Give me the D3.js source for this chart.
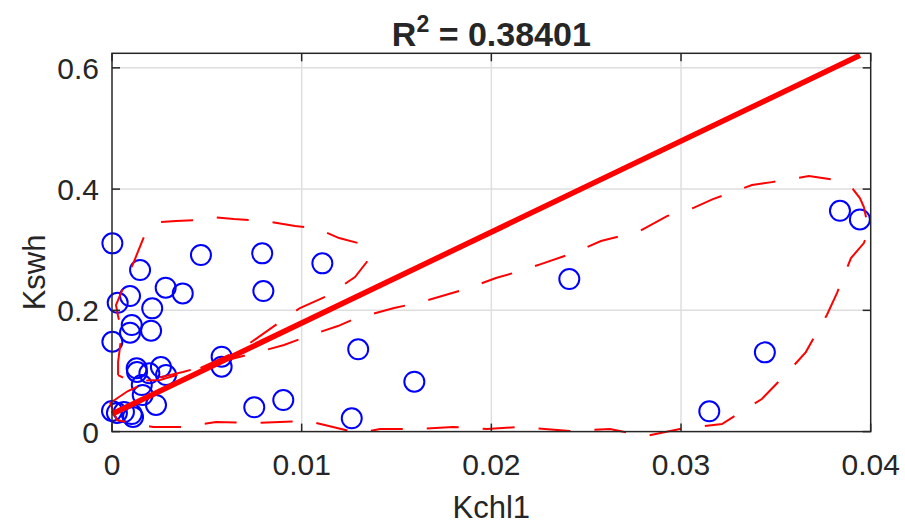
<!DOCTYPE html>
<html><head><meta charset="utf-8">
<script src="https://cdn.jsdelivr.net/npm/d3@7"></script>
<style>
body{margin:0;background:#fff}
svg{display:block}
text{font-family:"Liberation Sans",Arial,Helvetica,sans-serif;fill:#262626}
</style>
</head><body><svg id="c" width="905" height="527"></svg>
<script>
// ---- data ----
const xTicks = [0, 0.01, 0.02, 0.03, 0.04];
const xTickLabels = ["0", "0.01", "0.02", "0.03", "0.04"];
const yTicks = [0, 0.2, 0.4, 0.6];
const yTickLabels = ["0", "0.2", "0.4", "0.6"];
const xLabel = "Kchl1";
const yLabel = "Kswh";
const r2Text = "0.38401";

const kchl1 = [0.00002,0.00469,0.00792,0.01109,0.00148,0.00095,0.0003,0.00283,0.00373,0.00798,
  0.00212,0.00104,0.00095,0.00206,0.00002,0.00578,0.00578,0.01298,0.0013,0.00132,
  0.00197,0.00258,0.00285,0.00157,0.00162,0.00232,0.0000,0.00026,0.00063,0.00104,
  0.00111,0.0075,0.00903,0.01264,0.01594,0.02411,0.03149,0.03442,0.03838,0.03943];
const kswh = [0.3105,0.2912,0.294,0.2775,0.2664,0.2236,0.2125,0.2373,0.228,0.2318,
  0.2033,0.1758,0.1631,0.1664,0.1482,0.1235,0.107,0.1357,0.1044,0.0983,
  0.0961,0.1065,0.0933,0.0768,0.0603,0.0439,0.034,0.0307,0.0323,0.029,
  0.0241,0.0401,0.0521,0.0219,0.0823,0.2516,0.0335,0.1307,0.3642,0.35];

// linear fit: intercept, slope
const fitCoef = [0.029, 15.01];

// dashed boundary curves (data units)
const boundAx = [0.00032,0.00032,0.00047,0.00053,0.00032,0.00021,0.00121,0.00179,0.00258,0.00337,0.00432,0.00527,0.00643,0.00807,0.00965,0.01075,0.01197,0.01318,0.01355,0.01281,0.01133,0.00991,0.0087,0.00675,0.00464,0.00253,0.00095,0.00032];
const boundAy = [0.0933,0.1148,0.151,0.1642,0.1906,0.2087,0.2846,0.3291,0.3456,0.3472,0.3489,0.3538,0.3505,0.3472,0.339,0.3357,0.3192,0.3093,0.2846,0.2549,0.2236,0.2038,0.1774,0.1345,0.1049,0.0851,0.0834,0.0933];
const boundBx = [-0.0001,0.00084,0.00237,0.00374,0.00569,0.0077,0.00907,0.01033,0.01191,0.01276,0.01487,0.01629,0.01866,0.02024,0.02151,0.02261,0.0243,0.02578,0.02783,0.02926,0.03063,0.03168,0.03374,0.03479,0.03674,0.03817,0.03906,0.03943,0.03964,0.0399,0.03964,0.03896,0.03822,0.03769,0.03711,0.03658,0.03564,0.03426,0.03216,0.02994,0.02815,0.02625,0.02414,0.0214,0.01977,0.01798,0.01613,0.01413,0.01297,0.01165,0.01033,0.00764,0.00548,0.00369,0.00216,0.00026,-0.0001];
const boundBy = [0.0472,0.0669,0.0884,0.0983,0.1148,0.1312,0.1428,0.1576,0.1741,0.1857,0.2038,0.2137,0.2351,0.2533,0.2648,0.2763,0.2945,0.3143,0.3308,0.3555,0.3687,0.3835,0.4066,0.4115,0.4214,0.4148,0.4,0.3852,0.3703,0.3324,0.311,0.2862,0.2285,0.1923,0.1609,0.1312,0.0983,0.0538,0.0125,0.0043,-0.0073,0.0043,0.001,0.0076,0.0043,0.0076,0.0043,0.0043,-0.0023,0.0076,0.0175,0.0142,0.0158,0.0076,0.0076,0.0191,0.0472];

// ---- layout ----
const L = 112, R = 870.7, T = 53.3, B = 431.6;
const axisColor = "#262626";

const svg = d3.select("#c");
const x = d3.scaleLinear().domain([0, 0.04]).range([L, R]);
const y = d3.scaleLinear().domain([0, 0.624]).range([B, T]);

// grid
const grid = svg.append("g");
grid.selectAll("line.gx").data(xTicks.slice(1, -1)).join("line")
  .attr("x1", d => x(d)).attr("x2", d => x(d)).attr("y1", T).attr("y2", B)
  .attr("stroke", "#dedede").attr("stroke-width", 1.5);
grid.selectAll("line.gy").data(yTicks.slice(1)).join("line")
  .attr("y1", d => y(d)).attr("y2", d => y(d)).attr("x1", L).attr("x2", R)
  .attr("stroke", "#dedede").attr("stroke-width", 1.5);

// points
svg.append("g").selectAll("circle").data(kchl1).join("circle")
  .attr("cx", d => x(d)).attr("cy", (d, i) => y(kswh[i])).attr("r", 10)
  .attr("fill", "none").attr("stroke", "#0000ff").attr("stroke-width", 2);

// dashed boundaries
const lineGen = d3.line().x(d => x(d[0])).y(d => y(d[1]));
[[boundAx, boundAy], [boundBx, boundBy]].forEach(([bx, by]) => {
  svg.append("path").datum(bx.map((v, i) => [v, by[i]]))
    .attr("d", lineGen).attr("fill", "none").attr("stroke", "#ff0000")
    .attr("stroke-width", 2).attr("stroke-dasharray", "32,24");
});

// fit line
const xMin = d3.min(kchl1), xMax = d3.max(kchl1);
svg.append("path").datum([[xMin, fitCoef[0] + fitCoef[1] * xMin], [xMax, fitCoef[0] + fitCoef[1] * xMax]])
  .attr("d", lineGen).attr("fill", "none").attr("stroke", "#ff0000").attr("stroke-width", 5.5);

// box + ticks
const ax = svg.append("g").attr("stroke", axisColor).attr("stroke-width", 1.5).attr("fill", "none");
ax.append("rect").attr("x", L).attr("y", T).attr("width", R - L).attr("height", B - T);
const tl = 8;
xTicks.forEach(t => {
  ax.append("line").attr("x1", x(t)).attr("x2", x(t)).attr("y1", B).attr("y2", B - tl);
  ax.append("line").attr("x1", x(t)).attr("x2", x(t)).attr("y1", T).attr("y2", T + tl);
});
yTicks.forEach(t => {
  ax.append("line").attr("y1", y(t)).attr("y2", y(t)).attr("x1", L).attr("x2", L + tl);
  ax.append("line").attr("y1", y(t)).attr("y2", y(t)).attr("x1", R).attr("x2", R - tl);
});

// tick labels
svg.append("g").selectAll("text").data(xTicks).join("text")
  .attr("x", d => x(d)).attr("y", 475).attr("text-anchor", "middle")
  .attr("font-size", 30).text((d, i) => xTickLabels[i]);
svg.append("g").selectAll("text").data(yTicks).join("text")
  .attr("x", 99).attr("y", d => y(d) + 11).attr("text-anchor", "end")
  .attr("font-size", 30).text((d, i) => yTickLabels[i]);

// axis labels
svg.append("text").attr("x", (L + R) / 2).attr("y", 518).attr("text-anchor", "middle")
  .attr("font-size", 31).text(xLabel);
svg.append("text").attr("transform", `translate(45,${(T + B) / 2 + 30}) rotate(-90)`)
  .attr("text-anchor", "middle").attr("font-size", 31).text(yLabel);

// title
const title = svg.append("text").attr("x", (L + R) / 2).attr("y", 46).attr("text-anchor", "middle")
  .attr("font-size", 34).attr("font-weight", "bold").attr("fill", "#000");
title.append("tspan").text("R");
title.append("tspan").attr("font-size", 23).attr("dy", -14).text("2");
title.append("tspan").attr("dy", 14).text(" = " + r2Text);
</script>
</body></html>
